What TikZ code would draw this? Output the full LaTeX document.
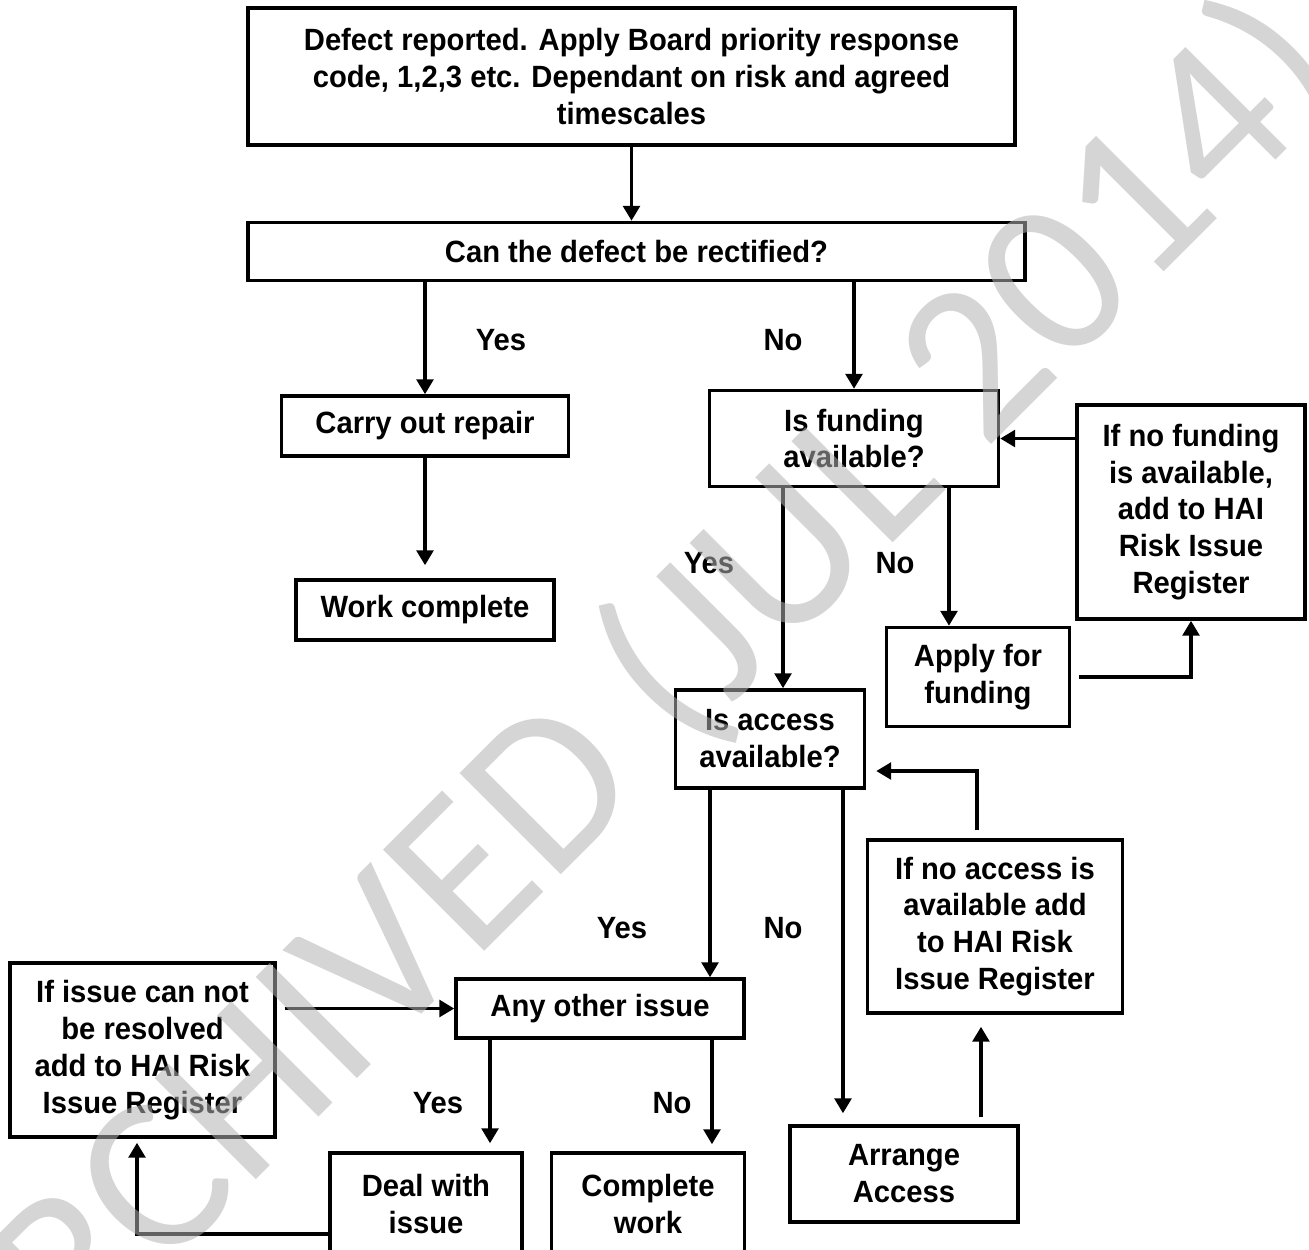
\documentclass[tikz,border=0pt]{standalone}
\usepackage{fontspec}
\setmainfont{Liberation Sans}[FakeStretch=0.95]
\newfontfamily\wmfont{Carlito}
\usepackage{tikz}
\usetikzlibrary{arrows.meta}

\newcommand{\boitefont}{\fontsize{17.5}{21}\selectfont\bfseries}

\begin{document}
\begin{tikzpicture}[x=0.02cm, y=-0.02cm,
        boite/.style={draw, line width=2pt, align=center, inner sep=0pt, font=\boitefont},
        fleche/.style={line width=2pt, -{Triangle[length=8.5pt,width=9.5pt]}},
        etiq/.style={font=\boitefont},
        filigrane/.style={rotate=45, anchor=base, text=black!30, text opacity=0.55,
            font=\wmfont\fontsize{127}{127}\selectfont}]
                \useasboundingbox (0,0) rectangle (1309,1249);
                \clip (0,0) rectangle (1309,1249);

                % Les boites
                \node[boite, minimum width=15.34cm, minimum height=2.74cm] (signal) at (631.5,76.5)
                    {Defect reported. Apply Board priority response\\ code, 1,2,3 etc. Dependant on risk and agreed\\ timescales};
                \node[boite, minimum width=15.54cm, minimum height=1.16cm] (rectif) at (636.5,251.5) {Can the defect be rectified?};
                \node[boite, minimum width=5.74cm, minimum height=1.2cm] (repar) at (425,426) {Carry out repair};
                \node[boite, minimum width=5.16cm, minimum height=1.2cm] (fini) at (425,610) {Work complete};
                \node[boite, minimum width=5.78cm, minimum height=1.92cm] (fonds) at (854,438.5) {Is funding\\ available?};
                \node[boite, minimum width=4.56cm, minimum height=4.28cm] (sansfonds) at (1191,512)
                    {If no funding\\ is available,\\ add to HAI\\ Risk Issue\\ Register};
                \node[boite, minimum width=3.66cm, minimum height=1.98cm] (demande) at (978,677) {Apply for\\ funding};
                \node[boite, minimum width=3.78cm, minimum height=1.96cm] (acces) at (770,739) {Is access\\ available?};
                \node[boite, minimum width=5.1cm, minimum height=3.46cm] (sansacces) at (995,926.5)
                    {If no access is\\ available add\\ to HAI Risk\\ Issue Register};
                \node[boite, minimum width=4.56cm, minimum height=1.92cm] (organiser) at (904,1174) {Arrange\\ Access};
                \node[boite, minimum width=5.76cm, minimum height=1.18cm] (autre) at (600,1008.5) {Any other issue};
                \node[boite, minimum width=5.3cm, minimum height=3.48cm] (nonresolu) at (142.5,1050)
                    {If issue can not\\ be resolved\\ add to HAI Risk\\ Issue Register};
                \node[boite, minimum width=3.84cm, minimum height=2.04cm] (traiter) at (426,1204) {Deal with\\ issue};
                \node[boite, minimum width=3.86cm, minimum height=2.04cm] (terminer) at (648,1204) {Complete\\ work};

                % Les reponses
                \node[etiq] (oui1) at (501,340) {Yes};
                \node[etiq] (non1) at (783,340) {No};
                \node[etiq] (oui2) at (709,563) {Yes};
                \node[etiq] (non2) at (895,563) {No};
                \node[etiq] (oui3) at (622,928) {Yes};
                \node[etiq] (non3) at (783,928) {No};
                \node[etiq] (oui4) at (438,1103) {Yes};
                \node[etiq] (non4) at (672,1103) {No};

                % Les fleches
                \draw[fleche] (signal.south) -- (signal.south |- rectif.north);
                \draw[fleche] (repar.north |- rectif.south) -- (repar.north);
                \draw[fleche] (fonds.north |- rectif.south) -- (fonds.north);
                \draw[fleche, shorten >=0.26cm] (repar) -- (fini);
                \draw[fleche] ([xshift=-1.42cm]fonds.south) -- ([xshift=-1.42cm]fonds.south |- acces.north);
                \draw[fleche] ([xshift=1.9cm]fonds.south) -- ([xshift=1.9cm]fonds.south |- demande.north);
                \draw[fleche, shorten <=0.16cm] (demande.east) -| (sansfonds.south);
                \draw[fleche] (sansfonds.west |- fonds.east) -- (fonds.east);
                \draw[fleche] ([xshift=-1.2cm]acces.south) -- ([xshift=-1.2cm]acces.south |- autre.north);
                \draw[fleche, shorten >=0.22cm] ([xshift=1.46cm]acces.south) -- ([xshift=1.46cm]acces.south |- organiser.north);
                \draw[fleche, shorten <=0.14cm, shorten >=0.24cm] ([xshift=1.54cm]organiser.north) -- ([xshift=1.54cm]organiser.north |- sansacces.south);
                \draw[fleche, shorten <=0.16cm, shorten >=0.2cm] ([xshift=-0.36cm]sansacces.north) |- ([yshift=-0.64cm]acces.east);
                \draw[fleche, shorten >=0.16cm] ([xshift=-2.2cm]autre.south) -- ([xshift=-2.2cm]autre.south |- traiter.north);
                \draw[fleche, shorten >=0.14cm] ([xshift=2.24cm]autre.south) -- ([xshift=2.24cm]autre.south |- terminer.north);
                \draw[fleche, shorten >=0.08cm] ([yshift=-0.6cm]traiter.west) -| ([xshift=-0.11cm]nonresolu.south);
                \draw[fleche, shorten <=0.16cm] (nonresolu.east |- autre.west) -- (autre.west);

                % Le filigrane
                \node[filigrane] (archive) at (669,767) {ARCHIVED (JUL 2014)};
            \end{tikzpicture}
\end{document}
